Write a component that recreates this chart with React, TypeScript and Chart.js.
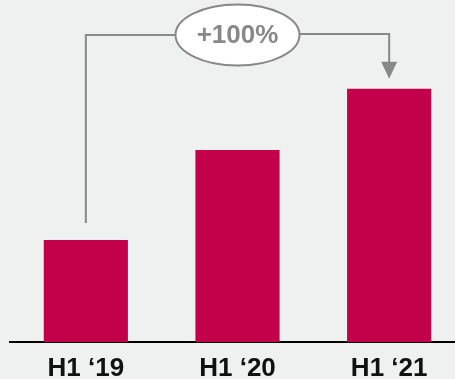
import React, { useEffect, useRef } from "react";
import { Chart, registerables } from "chart.js";

Chart.register(...registerables);

const categories: string[] = ["H1 \u201819", "H1 \u201820", "H1 \u201821"];
const values: number[] = [100, 188, 248];
const growthLabel = "+100%";

const BG = "#eff0f0";
const BAR = "#c3004a";
const GRAY = "#888888";

const connectorPlugin = {
  id: "connector",
  beforeDraw(chart: any) {
    const { ctx, width, height } = chart;
    ctx.save();
    ctx.fillStyle = BG;
    ctx.fillRect(0, 0, width, height);
    ctx.restore();
  },
  afterDatasetsDraw(chart: any) {
    const ctx = chart.ctx;
    const meta = chart.getDatasetMeta(0);
    const first = meta.data[0];
    const mid = meta.data[1];
    const last = meta.data[meta.data.length - 1];
    const cx = mid.x;
    const cy = 35;
    const rx = 62;
    const ry = 30.5;
    const x1 = first.x;
    const x3 = last.x;
    ctx.save();
    ctx.strokeStyle = GRAY;
    ctx.lineWidth = 2;
    // left leg
    ctx.beginPath();
    ctx.moveTo(x1, first.y - 17);
    ctx.lineTo(x1, cy);
    ctx.lineTo(cx - rx, cy);
    ctx.stroke();
    // right leg
    const tipY = last.y - 10;
    ctx.beginPath();
    ctx.moveTo(cx + rx, cy - 1);
    ctx.lineTo(x3, cy - 1);
    ctx.lineTo(x3, tipY - 14);
    ctx.stroke();
    // arrow head
    ctx.fillStyle = GRAY;
    ctx.beginPath();
    ctx.moveTo(x3 - 8, tipY - 17);
    ctx.lineTo(x3 + 8, tipY - 17);
    ctx.lineTo(x3, tipY);
    ctx.closePath();
    ctx.fill();
    // ellipse
    ctx.beginPath();
    ctx.ellipse(cx, cy, rx, ry, 0, 0, Math.PI * 2);
    ctx.fillStyle = "#ffffff";
    ctx.fill();
    ctx.lineWidth = 2;
    ctx.strokeStyle = GRAY;
    ctx.stroke();
    // label
    ctx.fillStyle = GRAY;
    ctx.font = "bold 26px 'Liberation Sans', Arial, sans-serif";
    ctx.textAlign = "center";
    ctx.textBaseline = "alphabetic";
    ctx.fillText(growthLabel, cx, cy + 8);
    ctx.restore();
  },
};

export default function App() {
  const ref = useRef<HTMLCanvasElement | null>(null);
  useEffect(() => {
    document.body.style.margin = "0";
    document.body.style.background = BG;
    const canvas = ref.current;
    if (!canvas) return;
    const chart = new Chart(canvas, {
      type: "bar",
      data: {
        labels: categories,
        datasets: [
          {
            data: values,
            backgroundColor: BAR,
            borderWidth: 0,
            barPercentage: 0.555,
            categoryPercentage: 1,
          },
        ],
      },
      options: {
        responsive: false,
        animation: false,
        events: [],
        layout: { padding: { left: 10, right: 0, top: 0, bottom: 0 } },
        plugins: {
          legend: { display: false },
          tooltip: { enabled: false },
        },
        scales: {
          x: {
            grid: { display: false, drawTicks: false },
            border: { display: true, color: "#000000", width: 2 },
            ticks: {
              padding: 11,
              color: "#111111",
              font: { family: "'Liberation Sans', Arial, sans-serif", size: 26, weight: "bold" },
            },
            afterFit: (scale: any) => {
              scale.height = 37;
            },
          },
          y: {
            display: false,
            min: 0,
            max: 335,
          },
        },
      },
      plugins: [connectorPlugin],
    });
    return () => chart.destroy();
  }, []);
  return (
    <div style={{ width: 455, height: 379, overflow: "hidden", background: BG }}>
      <canvas ref={ref} width={465} height={379} style={{ display: "block" }} />
    </div>
  );
}
